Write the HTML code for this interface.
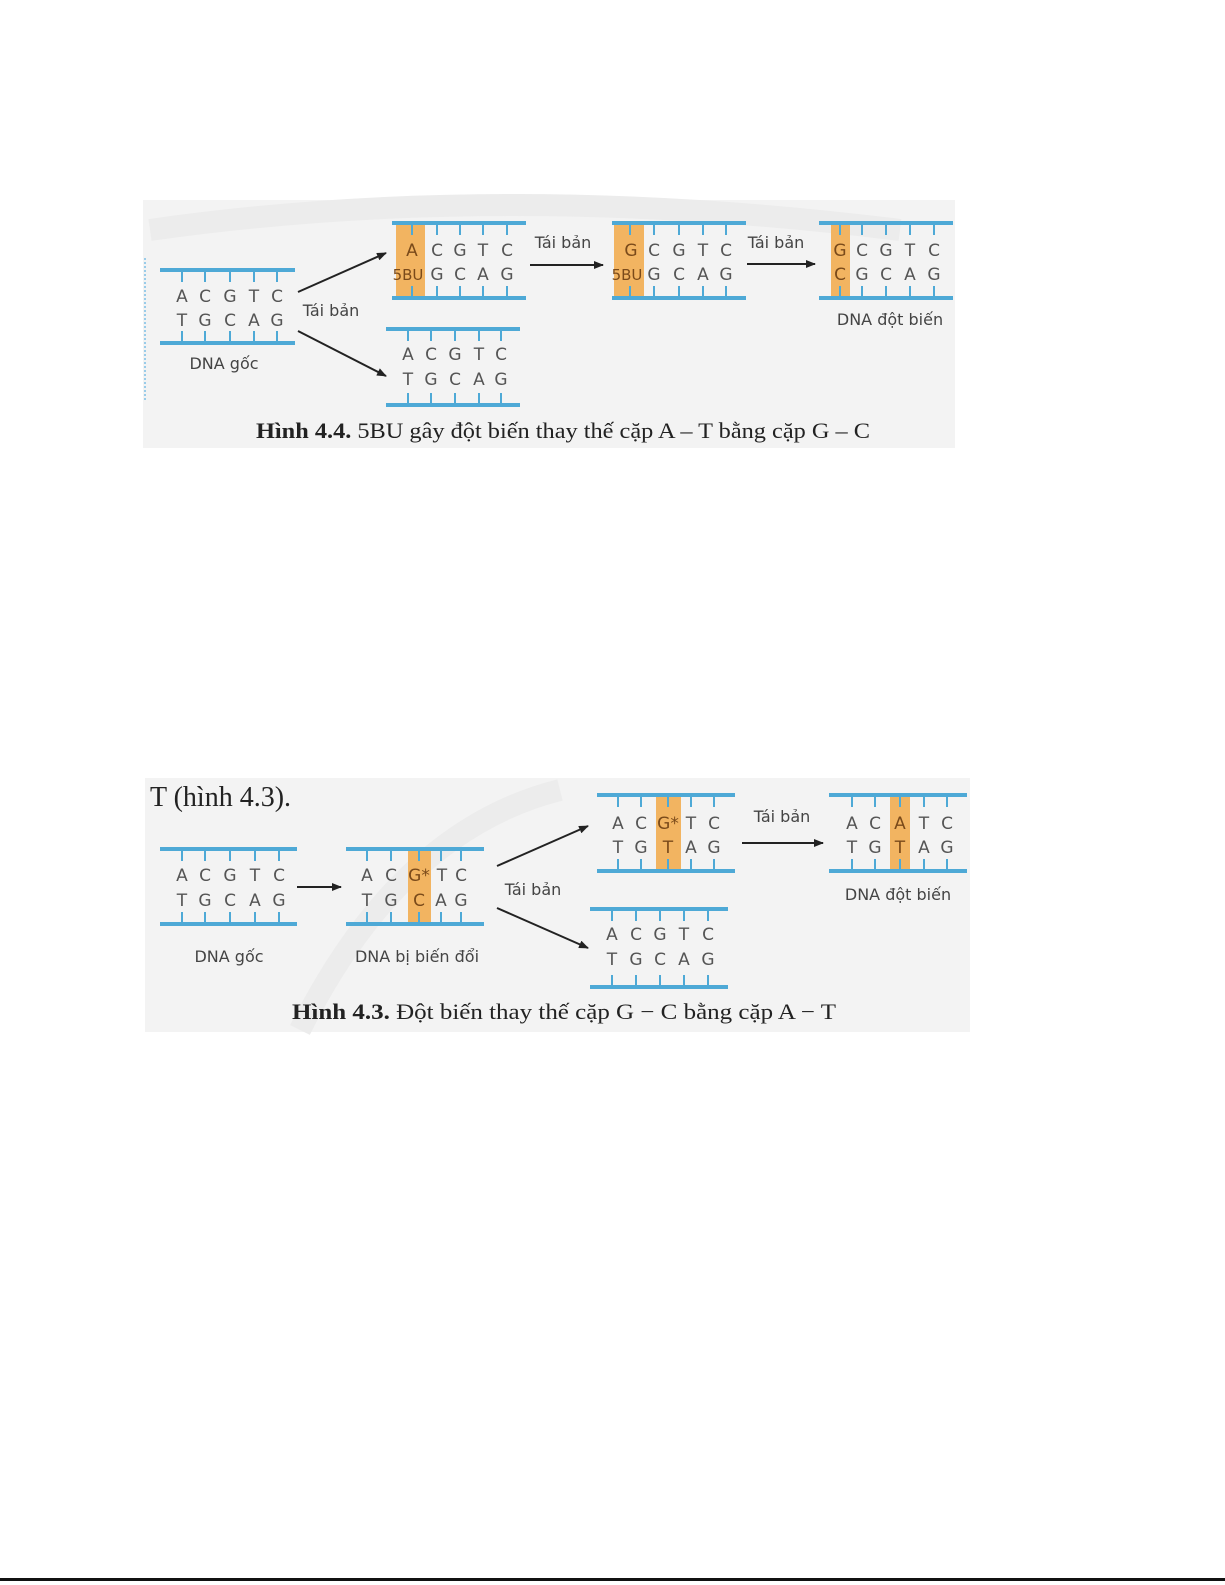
<!DOCTYPE html>
<html><head><meta charset="utf-8"><style>
html,body{margin:0;padding:0;background:#fff;}
svg{display:block}
.l{font-family:"DejaVu Sans","Liberation Sans",sans-serif;font-size:17px;fill:#555;text-anchor:middle}
.o{fill:#7a4a1a}
.s{font-family:"DejaVu Sans","Liberation Sans",sans-serif;font-size:16px;fill:#444;text-anchor:middle}
.c{font-family:"Liberation Serif",serif;font-size:22px;fill:#222}
.b{fill:#4ea9d6}
.t{stroke:#4ea9d6;stroke-width:2}
.a{stroke:#222;stroke-width:2;fill:none}
</style></head><body>
<svg width="1225" height="1585" viewBox="0 0 1225 1585" xmlns="http://www.w3.org/2000/svg">
<defs><marker id="m" markerUnits="userSpaceOnUse" markerWidth="10" markerHeight="10" refX="9" refY="4" orient="auto"><path d="M0,0 L10,4 L0,8 z" fill="#222"/></marker></defs>

<rect x="143" y="200" width="812" height="248" fill="#f3f3f3"/>
<path d="M150,230 Q500,180 900,230" stroke="#ececec" stroke-width="22" fill="none"/>
<line x1="145" y1="258" x2="145" y2="402" stroke="#7cc0e6" stroke-width="1.5" stroke-dasharray="2,2"/>

<rect class="b" x="160" y="268" width="135" height="4"/><rect class="b" x="160" y="341" width="135" height="4"/>
<path class="t" d="M182,272v10M205,272v10M230,272v10M254,272v10M277,272v10M182,341v-10M205,341v-10M230,341v-10M254,341v-10M277,341v-10"/>
<text class="l" y="302"><tspan x="182">A</tspan><tspan x="205">C</tspan><tspan x="230">G</tspan><tspan x="254">T</tspan><tspan x="277">C</tspan></text>
<text class="l" y="326"><tspan x="182">T</tspan><tspan x="205">G</tspan><tspan x="230">C</tspan><tspan x="254">A</tspan><tspan x="277">G</tspan></text>
<text class="s" x="224" y="369">DNA gốc</text>

<line class="a" x1="298" y1="292" x2="386" y2="253" marker-end="url(#m)"/>
<line class="a" x1="298" y1="331" x2="386" y2="376" marker-end="url(#m)"/>
<text class="s" x="331" y="316">Tái bản</text>

<rect x="396" y="223" width="29" height="75" fill="#f2b461"/>
<rect class="b" x="392" y="221" width="134" height="4"/><rect class="b" x="392" y="296" width="134" height="4"/>
<path class="t" d="M412,225v10M437,225v10M460,225v10M483,225v10M507,225v10M412,296v-10M437,296v-10M460,296v-10M483,296v-10M507,296v-10"/>
<text class="l" y="256"><tspan x="412" class="o">A</tspan><tspan x="437">C</tspan><tspan x="460">G</tspan><tspan x="483">T</tspan><tspan x="507">C</tspan></text>
<text class="l" y="280"><tspan x="408" class="o" style="font-size:15px">5BU</tspan><tspan x="437">G</tspan><tspan x="460">C</tspan><tspan x="483">A</tspan><tspan x="507">G</tspan></text>

<rect class="b" x="386" y="327" width="134" height="4"/><rect class="b" x="386" y="403" width="134" height="4"/>
<path class="t" d="M408,331v10M431,331v10M455,331v10M479,331v10M501,331v10M408,403v-10M431,403v-10M455,403v-10M479,403v-10M501,403v-10"/>
<text class="l" y="360"><tspan x="408">A</tspan><tspan x="431">C</tspan><tspan x="455">G</tspan><tspan x="479">T</tspan><tspan x="501">C</tspan></text>
<text class="l" y="385"><tspan x="408">T</tspan><tspan x="431">G</tspan><tspan x="455">C</tspan><tspan x="479">A</tspan><tspan x="501">G</tspan></text>

<line class="a" x1="530" y1="265" x2="603" y2="265" marker-end="url(#m)"/>
<text class="s" x="563" y="248">Tái bản</text>

<rect x="614" y="223" width="30" height="75" fill="#f2b461"/>
<rect class="b" x="612" y="221" width="134" height="4"/><rect class="b" x="612" y="296" width="134" height="4"/>
<path class="t" d="M630,225v10M654,225v10M679,225v10M703,225v10M726,225v10M630,296v-10M654,296v-10M679,296v-10M703,296v-10M726,296v-10"/>
<text class="l" y="256"><tspan x="631" class="o">G</tspan><tspan x="654">C</tspan><tspan x="679">G</tspan><tspan x="703">T</tspan><tspan x="726">C</tspan></text>
<text class="l" y="280"><tspan x="627" class="o" style="font-size:15px">5BU</tspan><tspan x="654">G</tspan><tspan x="679">C</tspan><tspan x="703">A</tspan><tspan x="726">G</tspan></text>

<line class="a" x1="747" y1="264" x2="815" y2="264" marker-end="url(#m)"/>
<text class="s" x="776" y="248">Tái bản</text>

<rect x="831" y="223" width="19" height="75" fill="#f2b461"/>
<rect class="b" x="819" y="221" width="134" height="4"/><rect class="b" x="819" y="296" width="134" height="4"/>
<path class="t" d="M840,225v10M862,225v10M886,225v10M910,225v10M934,225v10M840,296v-10M862,296v-10M886,296v-10M910,296v-10M934,296v-10"/>
<text class="l" y="256"><tspan x="840" class="o">G</tspan><tspan x="862">C</tspan><tspan x="886">G</tspan><tspan x="910">T</tspan><tspan x="934">C</tspan></text>
<text class="l" y="280"><tspan x="840" class="o">C</tspan><tspan x="862">G</tspan><tspan x="886">C</tspan><tspan x="910">A</tspan><tspan x="934">G</tspan></text>
<text class="s" x="890" y="325">DNA đột biến</text>

<text class="c" x="256" y="438" textLength="614" lengthAdjust="spacingAndGlyphs"><tspan font-weight="bold">Hình 4.4.</tspan> 5BU gây đột biến thay thế cặp A – T bằng cặp G – C</text>

<rect x="145" y="778" width="825" height="254" fill="#f3f3f3"/>
<path d="M300,1030 Q400,830 560,790" stroke="#ececec" stroke-width="22" fill="none"/>
<text x="150" y="806" style="font-family:'Liberation Serif',serif;font-size:28px;fill:#222">T (hình 4.3).</text>

<rect class="b" x="160" y="847" width="137" height="4"/><rect class="b" x="160" y="922" width="137" height="4"/>
<path class="t" d="M182,851v10M205,851v10M230,851v10M255,851v10M279,851v10M182,922v-10M205,922v-10M230,922v-10M255,922v-10M279,922v-10"/>
<text class="l" y="881"><tspan x="182">A</tspan><tspan x="205">C</tspan><tspan x="230">G</tspan><tspan x="255">T</tspan><tspan x="279">C</tspan></text>
<text class="l" y="906"><tspan x="182">T</tspan><tspan x="205">G</tspan><tspan x="230">C</tspan><tspan x="255">A</tspan><tspan x="279">G</tspan></text>
<text class="s" x="229" y="962">DNA gốc</text>

<line class="a" x1="297" y1="887" x2="341" y2="887" marker-end="url(#m)"/>

<rect x="408" y="849" width="23" height="75" fill="#f2b461"/>
<rect class="b" x="346" y="847" width="138" height="4"/><rect class="b" x="346" y="922" width="138" height="4"/>
<path class="t" d="M367,851v10M391,851v10M419,851v10M441,851v10M461,851v10M367,922v-10M391,922v-10M419,922v-10M441,922v-10M461,922v-10"/>
<text class="l" y="881"><tspan x="367">A</tspan><tspan x="391">C</tspan><tspan x="419" class="o">G*</tspan><tspan x="442">T</tspan><tspan x="461">C</tspan></text>
<text class="l" y="906"><tspan x="367">T</tspan><tspan x="391">G</tspan><tspan x="419" class="o">C</tspan><tspan x="441">A</tspan><tspan x="461">G</tspan></text>
<text class="s" x="417" y="962">DNA bị biến đổi</text>

<line class="a" x1="497" y1="866" x2="588" y2="826" marker-end="url(#m)"/>
<line class="a" x1="497" y1="908" x2="588" y2="948" marker-end="url(#m)"/>
<text class="s" x="533" y="895">Tái bản</text>

<rect x="656" y="795" width="25" height="76" fill="#f2b461"/>
<rect class="b" x="597" y="793" width="138" height="4"/><rect class="b" x="597" y="869" width="138" height="4"/>
<path class="t" d="M618,797v10M641,797v10M668,797v10M691,797v10M714,797v10M618,869v-10M641,869v-10M668,869v-10M691,869v-10M714,869v-10"/>
<text class="l" y="829"><tspan x="618">A</tspan><tspan x="641">C</tspan><tspan x="668" class="o">G*</tspan><tspan x="691">T</tspan><tspan x="714">C</tspan></text>
<text class="l" y="853"><tspan x="618">T</tspan><tspan x="641">G</tspan><tspan x="668" class="o">T</tspan><tspan x="691">A</tspan><tspan x="714">G</tspan></text>

<rect class="b" x="590" y="907" width="138" height="4"/><rect class="b" x="590" y="985" width="138" height="4"/>
<path class="t" d="M612,911v10M636,911v10M660,911v10M684,911v10M708,911v10M612,985v-10M636,985v-10M660,985v-10M684,985v-10M708,985v-10"/>
<text class="l" y="940"><tspan x="612">A</tspan><tspan x="636">C</tspan><tspan x="660">G</tspan><tspan x="684">T</tspan><tspan x="708">C</tspan></text>
<text class="l" y="965"><tspan x="612">T</tspan><tspan x="636">G</tspan><tspan x="660">C</tspan><tspan x="684">A</tspan><tspan x="708">G</tspan></text>

<line class="a" x1="742" y1="843" x2="823" y2="843" marker-end="url(#m)"/>
<text class="s" x="782" y="822">Tái bản</text>

<rect x="890" y="795" width="20" height="76" fill="#f2b461"/>
<rect class="b" x="829" y="793" width="138" height="4"/><rect class="b" x="829" y="869" width="138" height="4"/>
<path class="t" d="M852,797v10M875,797v10M900,797v10M924,797v10M947,797v10M852,869v-10M875,869v-10M900,869v-10M924,869v-10M947,869v-10"/>
<text class="l" y="829"><tspan x="852">A</tspan><tspan x="875">C</tspan><tspan x="900" class="o">A</tspan><tspan x="924">T</tspan><tspan x="947">C</tspan></text>
<text class="l" y="853"><tspan x="852">T</tspan><tspan x="875">G</tspan><tspan x="900" class="o">T</tspan><tspan x="924">A</tspan><tspan x="947">G</tspan></text>
<text class="s" x="898" y="900">DNA đột biến</text>

<text class="c" x="292" y="1019" textLength="544" lengthAdjust="spacingAndGlyphs"><tspan font-weight="bold">Hình 4.3.</tspan> Đột biến thay thế cặp G − C bằng cặp A − T</text>

<rect x="0" y="1578" width="1225" height="3" fill="#111"/>
</svg>
</body></html>
